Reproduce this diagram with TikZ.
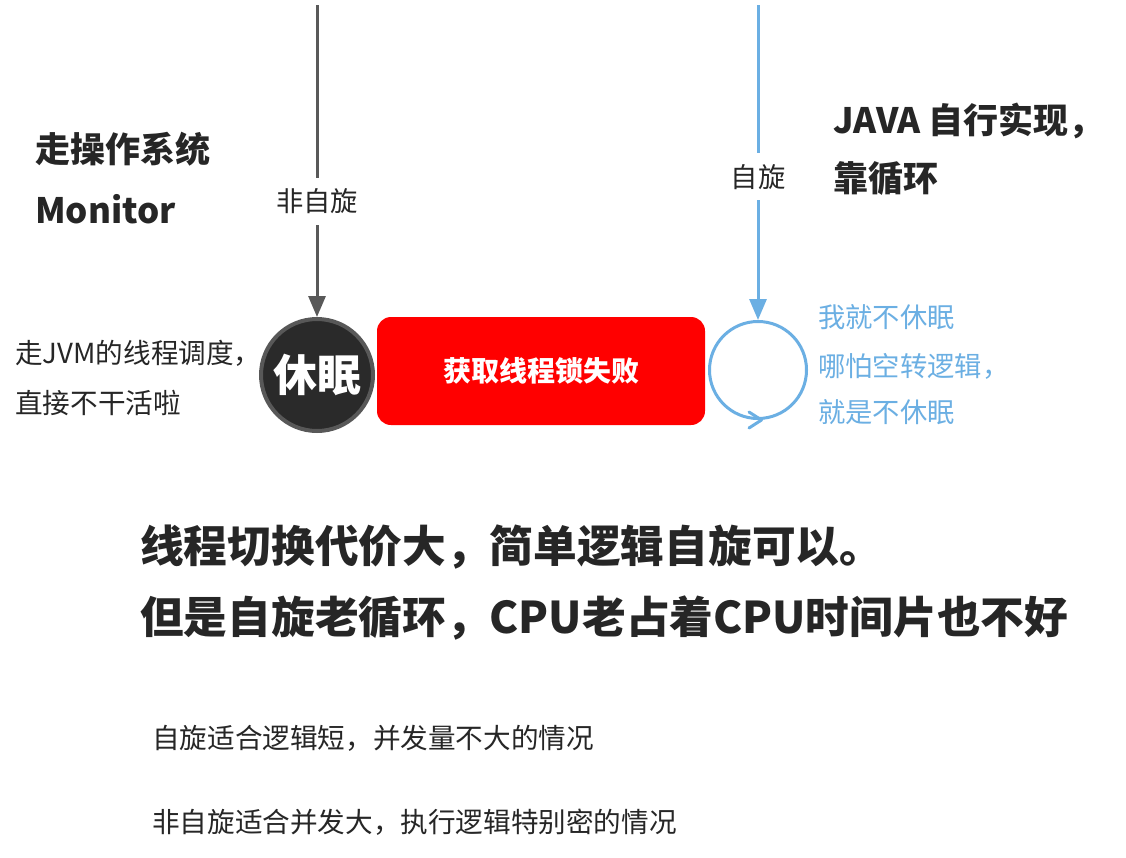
\documentclass[tikz,border=0pt]{standalone}
\usepackage{fontspec}
\setmainfont{Noto Sans CJK SC}
\usetikzlibrary{arrows.meta}
\definecolor{txtc}{HTML}{262626}
\definecolor{glinec}{HTML}{595959}
\definecolor{bluec}{HTML}{6BAFE3}
\definecolor{sleepfill}{HTML}{2A2A2A}
\definecolor{sleepborder}{HTML}{585858}
\definecolor{failred}{HTML}{FF0000}
\begin{document}
\begin{tikzpicture}[x=1pt,y=-1pt,
  txt/.style={anchor=west,inner sep=0pt,text=txtc},
  smallfont/.style={font=\fontsize{27.6}{32}\selectfont},
  titlefont/.style={font=\fontsize{35}{40}\selectfont\bfseries},
  bigfont/.style={font=\fontsize{43.7}{48}\selectfont\bfseries},
  bluetxt/.style={anchor=west,inner sep=0pt,text=bluec,font=\fontsize{27.3}{32}\selectfont},
  linelabel/.style={fill=white,inner xsep=3pt,inner ysep=11pt,text=txtc,font=\fontsize{27.3}{32}\selectfont},
  grayarrow/.style={draw=glinec,line width=3pt,-{Triangle[length=21pt,width=17pt]}},
  bluearrow/.style={draw=bluec,line width=3pt,-{Triangle[length=21pt,width=17pt]}}
]
\fill[white] (0,0) rectangle (1126,857);
\useasboundingbox (0,0) rectangle (1126,857);

% main nodes
\node[circle, fill=sleepfill, draw=sleepborder, line width=4pt, minimum size=112pt, inner sep=0pt,
      text=white, font=\fontsize{44}{44}\selectfont\bfseries] (sleep) at (317,375) {休眠};
\node[rectangle, rounded corners=14pt, fill=failred, minimum width=328pt, minimum height=108pt,
      text=white, font=\fontsize{28}{32}\selectfont\bfseries] (fail) at (541,371) {获取线程锁失败};
\node[circle, draw=bluec, line width=3pt, minimum size=97pt, inner sep=0pt] (loop) at (758,370) {};

% incoming arrows
\coordinate (gtop) at (317,5);
\coordinate (btop) at (758,5);
\draw[grayarrow] (gtop) -- (sleep.north) node[linelabel, pos=0.63] (lblns) {非自旋};
\draw[bluearrow] (btop) -- (loop.north) node[linelabel, pos=0.545] (lbls) {自旋};

% loop arrow chevron
\draw[bluec, line width=3pt, line cap=round, line join=round]
  ([xshift=-9pt,yshift=8pt]loop.south) -- ([xshift=3.5pt]loop.south) -- ([xshift=-9pt,yshift=-8pt]loop.south);

% texts
\node[txt, titlefont] (os1) at (35,149) {走操作系统};
\node[txt, titlefont] (os2) at (35,209) {Monitor};
\node[txt, titlefont] (java1) at (833,121) {JAVA 自行实现，};
\node[txt, titlefont] (java2) at (833,179) {靠循环};

\node[txt, smallfont] (jvm1) at (15,353) {走JVM的线程调度，};
\node[txt, smallfont] (jvm2) at (15,403) {直接不干活啦};

\node[bluetxt] (spin1) at (818,317) {我就不休眠};
\node[bluetxt] (spin2) at (818,366) {哪怕空转逻辑，};
\node[bluetxt] (spin3) at (818,412) {就是不休眠};

\node[txt, bigfont] (big1) at (140,547) {线程切换代价大，简单逻辑自旋可以。};
\node[txt, bigfont] (big2) at (140,618) {但是自旋老循环，CPU老占着CPU时间片也不好};

\node[txt, smallfont] (note1) at (152,738) {自旋适合逻辑短，并发量不大的情况};
\node[txt, smallfont] (note2) at (152,822) {非自旋适合并发大，执行逻辑特别密的情况};
\end{tikzpicture}
\end{document}
